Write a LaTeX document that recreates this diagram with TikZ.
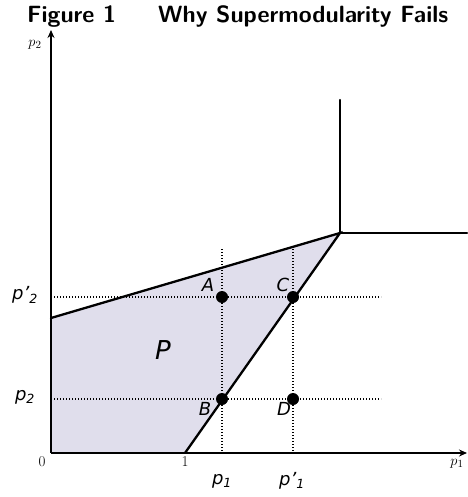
\documentclass[tikz,border=0pt]{standalone}
\usepackage{fontspec}
\newfontfamily\lblfont{DejaVu Sans}
\usetikzlibrary{arrows.meta}
\definecolor{regionfill}{RGB}{224,222,236}
\tikzset{
  axis/.style={line width=1.5pt},
  bound/.style={line width=2.3pt, line cap=round},
  guide/.style={line width=1.2pt, dash pattern=on 1.2pt off 1.8pt},
  pt/.style={circle, fill=black, inner sep=0pt, minimum size=12pt},
  lbl/.style={font=\lblfont\itshape\fontsize{18}{18}\selectfont, inner sep=0pt},
  tick/.style={font=\fontsize{15}{15}\selectfont, inner sep=0pt},
  ttl/.style={font=\sffamily\bfseries\fontsize{23.5}{24}\selectfont, anchor=base west, inner sep=0pt},
}
\begin{document}
\begin{tikzpicture}[x=1pt,y=-1pt]
\useasboundingbox (0,0) rectangle (467,497);
% title
\node[ttl] (t1) at (27,23) {Figure 1};
\node[ttl] (t2) at (158,23) {Why Supermodularity Fails};
% coordinates
\coordinate (O) at (51,453);
\coordinate (Ytop) at (51,30);
\coordinate (Xend) at (467,453);
\coordinate (L) at (51,318);
\coordinate (K) at (340,233);
\coordinate (One) at (185,453);
\coordinate (Kup) at (340,100);
\coordinate (Kright) at (467,233);
% region
\fill[regionfill] (O) -- (L) -- (K) -- (One) -- cycle;
% guides
\coordinate (h1a) at (51,297); \coordinate (h1b) at (381,297);
\coordinate (h2a) at (51,399); \coordinate (h2b) at (381,399);
\coordinate (v1a) at (222,249); \coordinate (v1b) at (222,453);
\coordinate (v2a) at (293,249); \coordinate (v2b) at (293,453);
\draw[guide] (h1a) -- (h1b);
\draw[guide] (h2a) -- (h2b);
\draw[guide] (v1a) -- (v1b);
\draw[guide] (v2a) -- (v2b);
% axes
\draw[axis, -{Stealth[length=8pt,width=7pt]}] (O) -- (Ytop);
\draw[axis, -{Stealth[length=8pt,width=7pt]}] (O) -- (Xend);
% boundary
\draw[bound] (L) -- (K) -- (One);
\draw[bound] (Kup) -- (K) -- (Kright);
% points
\node[pt] (A) at (222,297) {};
\node[pt] (C) at (293,297) {};
\node[pt] (B) at (222,399) {};
\node[pt] (D) at (293,399) {};
% point labels
\node[lbl] (lA) at (208,285) {A};
\node[lbl] (lC) at (283,285) {C};
\node[lbl] (lB) at (205,409) {B};
\node[lbl] (lD) at (284,409) {D};
\node[lbl, font=\lblfont\itshape\fontsize{26}{26}\selectfont] (lP) at (163,350) {P};
% axis value labels
\node[lbl] (lp2p) at (25,295) {p’\textsubscript{2}};
\node[lbl] (lp2) at (25,397) {p\textsubscript{2}};
\node[lbl] (lp1) at (222,481) {p\textsubscript{1}};
\node[lbl] (lp1p) at (292,481) {p’\textsubscript{1}};
% ticks
\node[tick] (z) at (42,462) {0};
\node[tick] (o) at (185,462) {1};
\node[tick] (xp) at (457,464) {$p_1$};
\node[tick] (yp) at (35,45) {$p_2$};
\end{tikzpicture}
\end{document}
